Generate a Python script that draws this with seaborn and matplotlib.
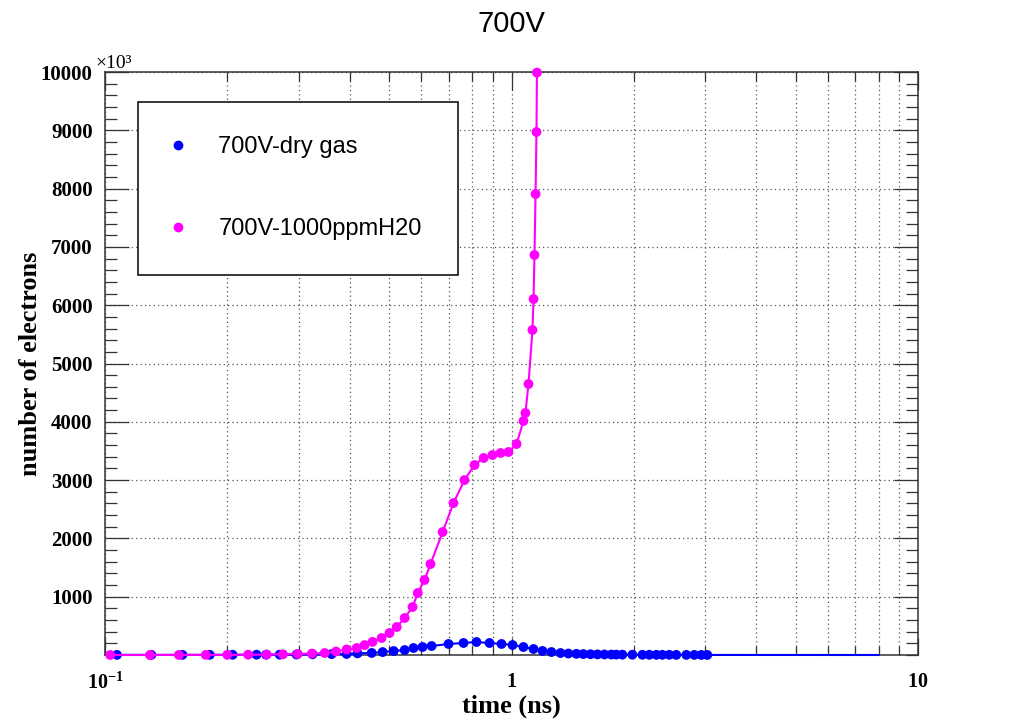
import numpy as np
import pandas as pd
import matplotlib
matplotlib.use("Agg")
import matplotlib.pyplot as plt
import seaborn as sns
from matplotlib.ticker import FixedLocator, LogLocator, MultipleLocator, NullFormatter
from matplotlib.lines import Line2D

# ---------------- data (time in ns, electrons in units of 10^3) ----------------
dry_time = [0.107, 0.130, 0.155, 0.181, 0.206, 0.236, 0.249, 0.269, 0.296, 0.324,
            0.361, 0.393, 0.418, 0.453, 0.482, 0.513, 0.546, 0.574, 0.604, 0.636,
            0.700, 0.762, 0.820, 0.883, 0.945, 1.006, 1.070, 1.133, 1.192, 1.254,
            1.320, 1.380, 1.444, 1.502, 1.564, 1.627, 1.693, 1.761, 1.811, 1.874,
            1.983, 2.099, 2.183, 2.272, 2.350, 2.445, 2.543, 2.692, 2.817, 2.931, 3.031]
dry_electrons = [2, 2, 3, 3, 4, 5, 5, 6, 8, 12,
                 15, 18, 28, 35, 50, 68, 85, 120, 137, 154,
                 189, 206, 223, 206, 189, 171, 137, 103, 69, 51,
                 34, 25, 20, 16, 13, 11, 9, 8, 7, 6,
                 5, 4, 4, 3, 3, 3, 2, 2, 2, 1, 1]
dry_tail_time = [3.031, 8.0]
dry_tail_electrons = [1, 0]

wet_time = [0.103, 0.129, 0.152, 0.177, 0.200, 0.225, 0.250, 0.274, 0.298, 0.323,
            0.347, 0.370, 0.393, 0.416, 0.435, 0.455, 0.479, 0.501, 0.522, 0.546,
            0.571, 0.588, 0.611, 0.632, 0.677, 0.720, 0.766, 0.811, 0.854, 0.898,
            0.940, 0.983, 1.029, 1.070, 1.082, 1.101, 1.126, 1.133, 1.139, 1.146,
            1.152, 1.155]
wet_electrons = [0, 0, 1, 2, 3, 5, 8, 12, 18, 25,
                 34, 60, 95, 120, 170, 225, 292, 377, 480, 635,
                 823, 1063, 1286, 1560, 2110, 2607, 3000, 3259, 3379, 3430,
                 3465, 3482, 3619, 4014, 4151, 4648, 5575, 6106, 6861, 7907,
                 8971, 9990]

series_labels = ["700V-dry gas", "700V-1000ppmH20"]
series_colors = ["#0000ff", "#ff00ff"]
title_text = "700V"
x_label = "time (ns)"
y_label = "number of electrons"
x_tick_values = [0.1, 1, 10]
x_tick_labels = [r"$10^{-1}$", r"$1$", r"$10$"]
y_tick_values = [1000, 2000, 3000, 4000, 5000, 6000, 7000, 8000, 9000, 10000]

# ---------------- style ----------------
sns.set_theme(style="white")
plt.rcParams['font.family'] = ['Liberation Serif', 'DejaVu Serif']
plt.rcParams['mathtext.fontset'] = 'custom'
plt.rcParams['mathtext.rm'] = 'Liberation Serif:bold'
plt.rcParams['mathtext.bf'] = 'Liberation Serif:bold'
plt.rcParams['mathtext.it'] = 'Liberation Serif:bold'
plt.rcParams['text.color'] = 'black'
plt.rcParams['axes.labelcolor'] = 'black'
plt.rcParams['xtick.color'] = 'black'
plt.rcParams['ytick.color'] = 'black'

fig = plt.figure(figsize=(10.22, 7.28), dpi=100)
fig.patch.set_facecolor("white")
W, H = 1022, 728
ax = fig.add_axes([105 / W, (H - 655) / H, (918 - 105) / W, (655 - 72) / H])
ax.set_facecolor("white")
ax.set_xscale("log")

dry = pd.DataFrame({"time": dry_time, "electrons": dry_electrons})
dry_tail = pd.DataFrame({"time": dry_tail_time, "electrons": dry_tail_electrons})
wet = pd.DataFrame({"time": wet_time, "electrons": wet_electrons})

lw = 1.5
ms = 50
sns.lineplot(data=dry, x="time", y="electrons", color=series_colors[0], lw=lw,
             estimator=None, ax=ax, clip_on=False, zorder=3)
sns.lineplot(data=dry_tail, x="time", y="electrons", color=series_colors[0], lw=lw,
             estimator=None, ax=ax, clip_on=False, zorder=3)
sns.scatterplot(data=dry, x="time", y="electrons", color=series_colors[0], s=ms,
                edgecolor="none", ax=ax, clip_on=False, zorder=4)
sns.lineplot(data=wet, x="time", y="electrons", color=series_colors[1], lw=lw,
             estimator=None, ax=ax, clip_on=False, zorder=5)
sns.scatterplot(data=wet, x="time", y="electrons", color=series_colors[1], s=ms,
                edgecolor="none", ax=ax, clip_on=False, zorder=6)

ax.set_xlim(0.1, 10)
ax.set_ylim(0, 10000)

# ticks
ax.xaxis.set_major_locator(FixedLocator(x_tick_values))
ax.set_xticklabels(x_tick_labels)
ax.xaxis.set_minor_locator(LogLocator(base=10, subs=range(2, 10)))
ax.xaxis.set_minor_formatter(NullFormatter())
ax.yaxis.set_major_locator(FixedLocator(y_tick_values))
ax.set_yticklabels([str(v) for v in y_tick_values])
ax.yaxis.set_minor_locator(MultipleLocator(200))

tick_col = "#333333"
ax.tick_params(axis="x", which="major", direction="in", length=12.6, width=0.9,
               color=tick_col, labelcolor="black", top=True, bottom=True, pad=13, labelsize=14.5)
ax.tick_params(axis="x", which="minor", direction="in", length=6.3, width=0.9,
               color=tick_col, top=True, bottom=True)
ax.tick_params(axis="y", which="major", direction="in", length=17.5, width=0.9,
               color=tick_col, labelcolor="black", left=True, right=True, pad=9, labelsize=15)
ax.tick_params(axis="y", which="minor", direction="in", length=8.8, width=0.9,
               color=tick_col, left=True, right=True)
for lab in ax.get_yticklabels():
    lab.set_fontweight("bold")
    lab.set_family("Liberation Serif")

# grid
ax.grid(True, which="major", axis="both", color="#555555", linestyle=(0, (1, 2.5)), lw=0.9)
ax.grid(True, which="minor", axis="x", color="#555555", linestyle=(0, (1, 2.5)), lw=0.9)
ax.set_axisbelow(True)

for sp in ax.spines.values():
    sp.set_color("#333333")
    sp.set_linewidth(1.1)
    sp.set_visible(True)

# labels
ax.set_xlabel(x_label, fontsize=19, fontweight="bold", family="Liberation Serif", color="black")
ax.xaxis.set_label_coords(0.5, -0.068)
ax.set_ylabel(y_label, fontsize=19, fontweight="bold", family="Liberation Serif", color="black")
ax.yaxis.set_label_coords(-0.078, 0.5)

fig.text(0.5, 1 - 24 / H, title_text, ha="center", va="center",
         family="Liberation Sans", fontsize=21, color="black")
fig.text(95 / W, 1 - 68 / H, "\u00d710\u00b3", ha="left", va="baseline",
         family="Liberation Serif", fontsize=14, color="black")

# legend
handles = [Line2D([], [], marker="o", ls="none", color=c, markersize=6, label=l)
           for c, l in zip(series_colors, series_labels)]
leg = ax.legend(handles=handles, loc="upper left",
                bbox_to_anchor=((138 - 105) / 813, (655 - 102) / 583, (458 - 138) / 813, 0),
                mode="expand", borderaxespad=0, borderpad=1.45, handlelength=0.5,
                handletextpad=1.45, labelspacing=2.55, frameon=True, fancybox=False,
                prop={"family": "Liberation Sans", "size": 17})
leg.get_frame().set_edgecolor("black")
leg.get_frame().set_linewidth(1.1)
leg.get_frame().set_alpha(1)
leg.set_zorder(10)
for t in leg.get_texts():
    t.set_color("black")

fig.savefig("out.png", dpi=100, facecolor="white")
